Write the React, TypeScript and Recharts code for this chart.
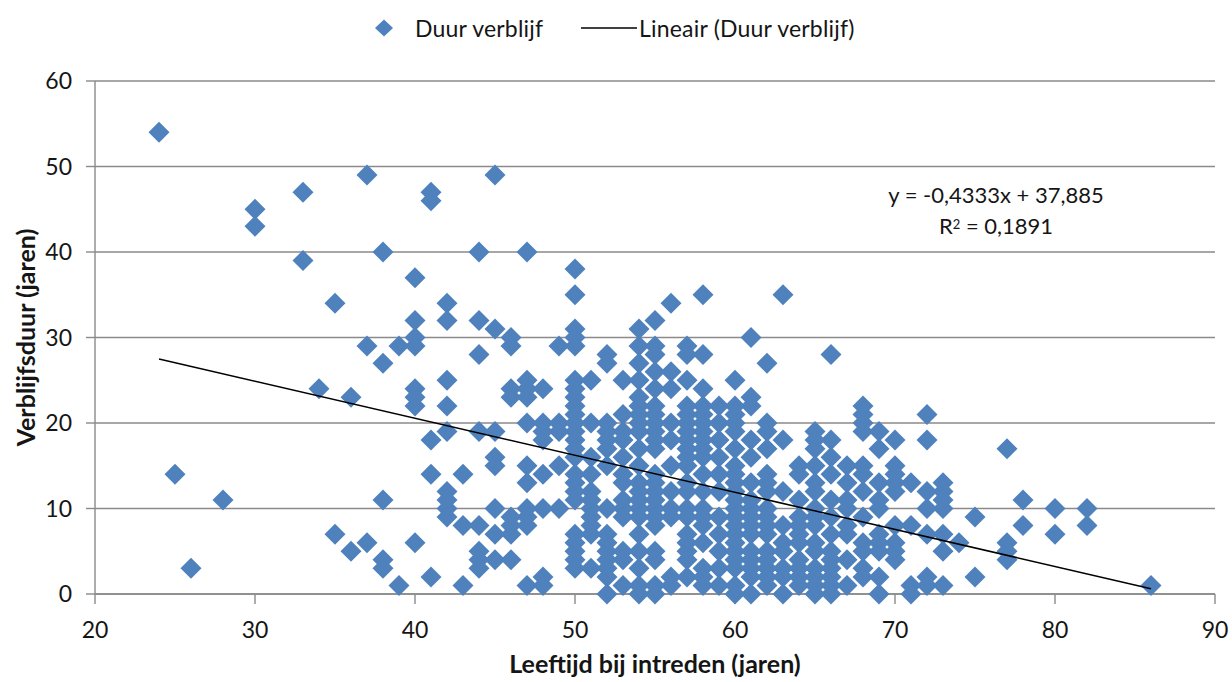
import React from 'react';
import { ScatterChart, Scatter, XAxis, YAxis, CartesianGrid } from 'recharts';

// Age at entry (x) columns and the stay durations (y) observed at each age
const ageColumns: number[] = [
  24, 25, 26, 28, 30, 33, 34, 35, 36, 37, 38, 39, 40, 41, 42, 43, 44, 45, 46, 47,
  48, 49, 50, 51, 52, 53, 54, 55, 56, 57, 58, 59, 60, 61, 62, 63, 64, 65, 66, 67,
  68, 69, 70, 71, 72, 73, 74, 75, 77, 78, 80, 82, 86,
];

const durationColumns: number[][] = [
  [54], // 24
  [14], // 25
  [3], // 26
  [11], // 28
  [45, 43], // 30
  [47, 39], // 33
  [24], // 34
  [34, 7], // 35
  [23, 5], // 36
  [49, 29, 6], // 37
  [40, 27, 11, 4, 3], // 38
  [29, 1], // 39
  [37, 32, 30, 29, 24, 23, 22, 6], // 40
  [47, 46, 18, 14, 2], // 41
  [34, 32, 25, 22, 19, 12, 11, 10, 9], // 42
  [14, 8, 1], // 43
  [40, 32, 28, 19, 8, 5, 4, 3], // 44
  [49, 31, 19, 16, 15, 10, 7, 4], // 45
  [30, 29, 24, 23, 9, 8, 7, 4], // 46
  [40, 25, 24, 23, 20, 15, 13, 10, 9, 8, 1], // 47
  [24, 20, 19, 18, 14, 10, 2, 1], // 48
  [29, 20, 19, 15, 10], // 49
  [38, 35, 31, 30, 29, 25, 24, 23, 22, 21, 20, 19, 18, 17, 16, 14, 13, 12, 11, 7, 6, 5, 4, 3], // 50
  [25, 20, 16, 14, 12, 11, 10, 9, 8, 7, 3], // 51
  [28, 27, 20, 19, 18, 17, 15, 10, 7, 6, 5, 4, 3, 2, 0], // 52
  [25, 21, 19, 18, 16, 14, 13, 11, 10, 9, 5, 4, 1], // 53
  [31, 29, 27, 25, 23, 22, 21, 20, 19, 17, 15, 13, 12, 11, 10, 9, 7, 5, 3, 1, 0], // 54
  [32, 29, 28, 26, 24, 22, 21, 20, 19, 18, 17, 14, 13, 12, 11, 10, 9, 8, 5, 4, 1, 0], // 55
  [34, 26, 24, 20, 18, 15, 12, 10, 9, 2, 1], // 56
  [29, 28, 25, 22, 21, 20, 19, 18, 17, 16, 15, 13, 12, 10, 9, 7, 6, 5, 4, 2], // 57
  [35, 28, 24, 22, 21, 20, 19, 18, 17, 16, 14, 12, 10, 9, 8, 6, 3, 2, 1], // 58
  [22, 20, 18, 16, 14, 12, 9, 7, 5, 3, 1], // 59
  [25, 22, 21, 20, 19, 17, 15, 14, 13, 12, 11, 10, 9, 8, 7, 6, 5, 4, 3, 1, 0], // 60
  [30, 23, 22, 18, 16, 13, 11, 10, 9, 8, 7, 5, 4, 3, 2, 0], // 61
  [27, 20, 19, 17, 14, 13, 12, 10, 9, 8, 7, 5, 4, 3, 2, 1], // 62
  [35, 18, 12, 8, 6, 5, 3, 2, 0], // 63
  [15, 14, 11, 9, 8, 7, 6, 4, 3, 2, 1], // 64
  [19, 18, 17, 15, 13, 12, 10, 9, 8, 6, 5, 3, 2, 1, 0], // 65
  [28, 18, 16, 14, 11, 9, 7, 5, 4, 3, 2, 1, 0], // 66
  [15, 13, 11, 10, 8, 7, 4, 1], // 67
  [22, 21, 20, 19, 15, 14, 12, 9, 6, 5, 3, 2], // 68
  [19, 17, 13, 11, 10, 7, 6, 5, 2, 0], // 69
  [18, 15, 14, 13, 12, 8, 6, 5, 4], // 70
  [13, 8, 1, 0], // 71
  [21, 18, 12, 10, 7, 2, 1], // 72
  [13, 12, 11, 10, 7, 5, 1], // 73
  [6], // 74
  [9, 2], // 75
  [17, 6, 5, 4], // 77
  [11, 8], // 78
  [10, 7], // 80
  [10, 8], // 82
  [1], // 86
];

// Linear trend line as displayed in the chart
const trendSlope = -0.4333;
const trendIntercept = 37.885;
const trendAgeRange: number[] = [24, 86];

const xTicks: number[] = [20, 30, 40, 50, 60, 70, 80, 90];
const yTicks: number[] = [0, 10, 20, 30, 40, 50, 60];

const seriesName = 'Duur verblijf';
const trendName = 'Lineair (Duur verblijf)';
const equationText = 'y = -0,4333x + 37,885';
const r2Value = '0,1891';
const xTitle = 'Leeftijd bij intreden (jaren)';
const yTitle = 'Verblijfsduur (jaren)';

const scatterData = ageColumns.flatMap((age, i) =>
  durationColumns[i].map((d) => ({ x: age, y: d }))
);
const trendData = trendAgeRange.map((a) => ({ x: a, y: trendSlope * a + trendIntercept }));

const BLUE = '#4F81BD';
const GRID = '#8a8a8a';
const TEXT = '#151515';
const FONT = 'Lato, "Open Sans", sans-serif';

const Diamond = (props: any) => {
  const { cx, cy } = props;
  if (cx == null || cy == null) return <g />;
  const w = 10.5;
  const h = 10.5;
  return (
    <polygon
      points={`${cx},${cy - h} ${cx + w},${cy} ${cx},${cy + h} ${cx - w},${cy}`}
      fill={BLUE}
    />
  );
};

const NoShape = () => <g />;

export default function App() {
  return (
    <div style={{ position: 'absolute', left: 0, top: 0, width: 1232, height: 682, background: '#fff', fontFamily: FONT, overflow: 'hidden' }}>
      <ScatterChart
        width={1232}
        height={682}
        margin={{ top: 81, right: 17, bottom: 0, left: 0 }}
      >
        <CartesianGrid vertical={false} stroke={GRID} strokeWidth={1.4} />
        <XAxis
          type="number"
          dataKey="x"
          domain={[20, 90]}
          ticks={xTicks}
          height={88}
          tickSize={10}
          tickMargin={18}
          axisLine={{ stroke: GRID, strokeWidth: 1.4 }}
          tickLine={{ stroke: GRID, strokeWidth: 1.4 }}
          tick={{ fill: TEXT, fontSize: 23, fontFamily: FONT }}
          label={{
            value: xTitle,
            position: 'insideBottom',
            offset: 9,
            style: { fill: TEXT, fontSize: 25, fontWeight: 700, fontFamily: FONT },
          }}
        />
        <YAxis
          type="number"
          dataKey="y"
          domain={[0, 60]}
          ticks={yTicks}
          width={95}
          tickSize={9}
          tickMargin={14}
          axisLine={{ stroke: GRID, strokeWidth: 1.4 }}
          tickLine={{ stroke: GRID, strokeWidth: 1.4 }}
          tick={{ fill: TEXT, fontSize: 23, fontFamily: FONT }}
          label={{
            value: yTitle,
            angle: -90,
            position: 'center',
            dx: -21,
            style: { fill: TEXT, fontSize: 25, fontWeight: 700, fontFamily: FONT, textAnchor: 'middle' },
          }}
        />
        <Scatter
          name={seriesName}
          data={scatterData}
          shape={Diamond}
          isAnimationActive={false}
        />
        <Scatter
          name={trendName}
          data={trendData}
          shape={NoShape}
          line={{ stroke: '#000', strokeWidth: 1.5 }}
          isAnimationActive={false}
        />
      </ScatterChart>

      {/* Legend */}
      <svg width={20} height={20} style={{ position: 'absolute', left: 374, top: 18 }}>
        <polygon points="10,1.5 19,10 10,18.5 1,10" fill={BLUE} />
      </svg>
      <span style={{ position: 'absolute', left: 415, top: 14, fontSize: 23, lineHeight: '28px', color: TEXT, whiteSpace: 'nowrap', letterSpacing: 0.2 }}>
        {seriesName}
      </span>
      <svg width={56} height={4} style={{ position: 'absolute', left: 581, top: 26 }}>
        <line x1={0} y1={2} x2={56} y2={2} stroke="#000" strokeWidth={1.6} />
      </svg>
      <span style={{ position: 'absolute', left: 639, top: 14, fontSize: 23, lineHeight: '28px', color: TEXT, whiteSpace: 'nowrap', letterSpacing: 0.2 }}>
        {trendName}
      </span>

      {/* Trendline equation */}
      <div style={{ position: 'absolute', left: 846, top: 179, width: 300, textAlign: 'center', fontSize: 22, color: TEXT, lineHeight: '31px' }}>
        <div>{equationText}</div>
        <div>R<sup style={{ fontSize: 13, verticalAlign: 'top', position: 'relative', top: -1 }}>2</sup> = {r2Value}</div>
      </div>
    </div>
  );
}
